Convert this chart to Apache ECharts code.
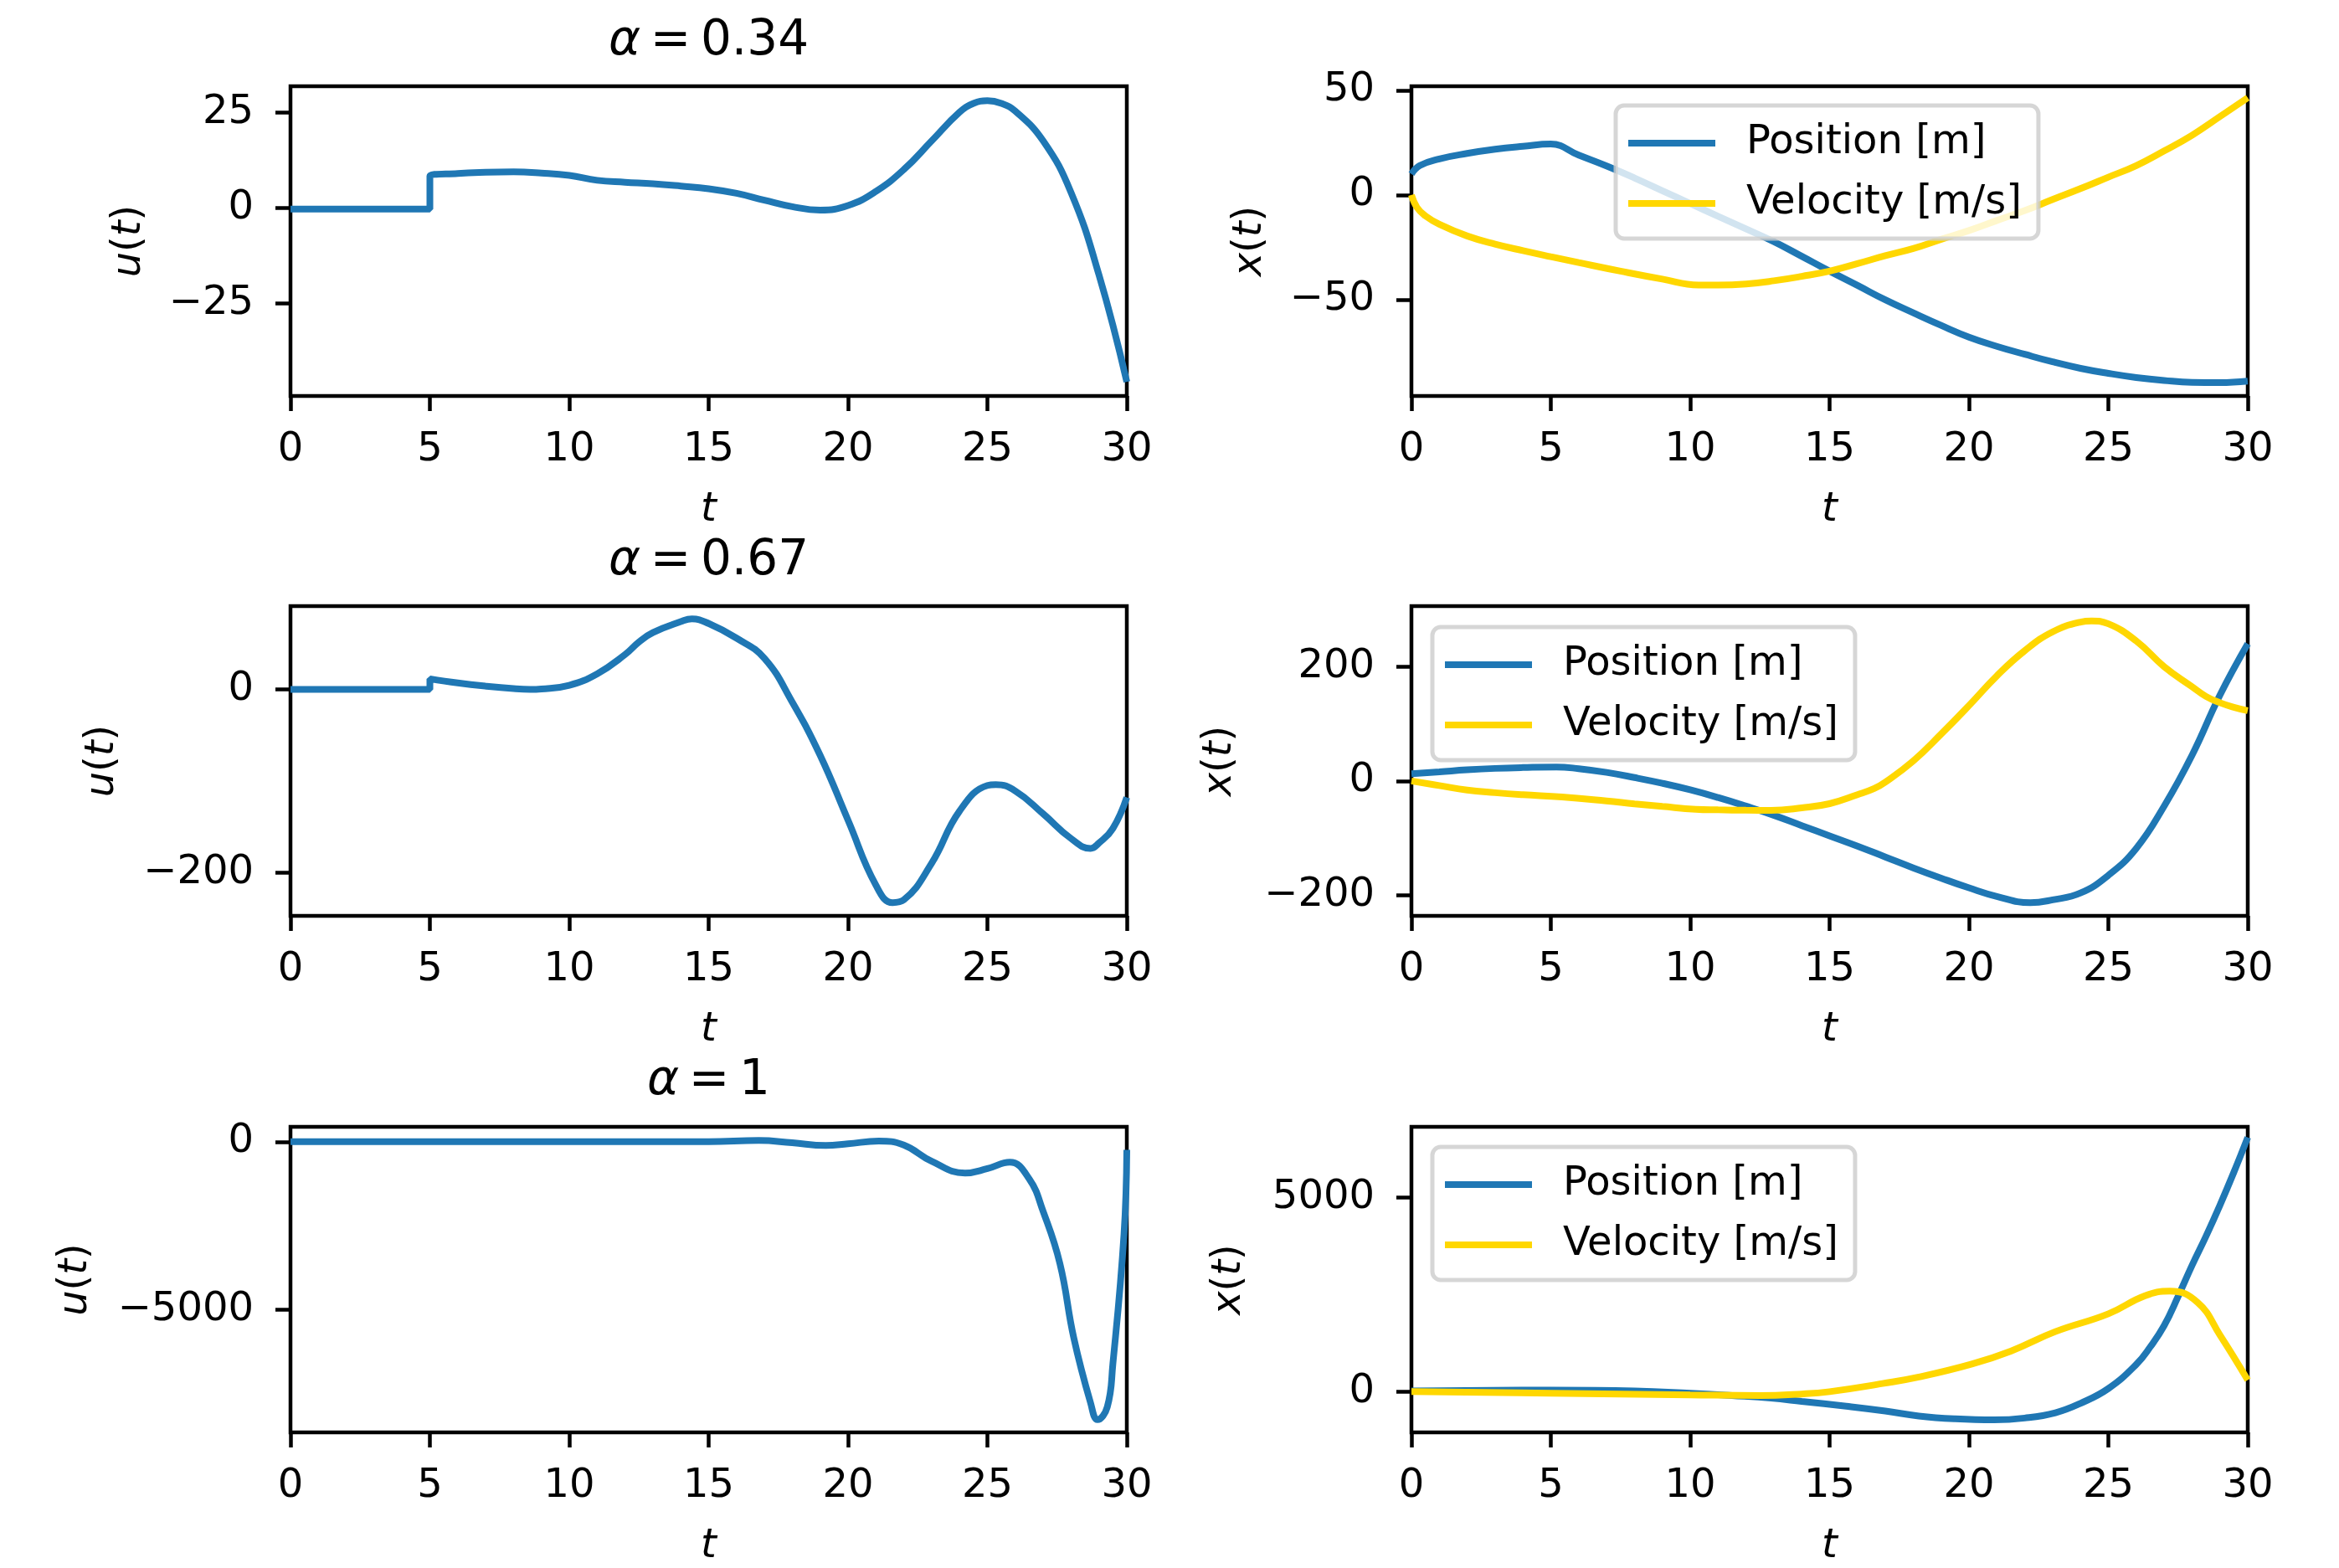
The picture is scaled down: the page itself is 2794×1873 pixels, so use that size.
<!DOCTYPE html>
<html>
<head>
<meta charset="utf-8">
<script src="https://cdn.jsdelivr.net/npm/echarts@6/dist/echarts.min.js"></script>
<style>
  html, body { margin: 0; padding: 0; background: #fff; }
  #main { width: 2794px; height: 1873px; }
</style>
</head>
<body>
<div id="main"></div>
<script>
// ---- data ----
var tTicks = [0, 5, 10, 15, 20, 25, 30];

// alpha = 0.34
var u1T = [0, 2, 4, 5, 5, 6, 7, 8, 9, 10, 11, 12, 13, 14, 15, 16, 17, 18, 19, 20, 21, 22, 23, 24, 24.5, 25, 25.5, 26, 27, 28, 29, 30];
var u1V = [-0.3, -0.3, -0.3, -0.3, 8.3, 9.0, 9.3, 9.4, 9.1, 8.5, 7.2, 6.7, 6.3, 5.7, 5.0, 3.8, 2.0, 0.3, -0.6, 0.6, 4.3, 10.0, 17.5, 25.0, 27.3, 28.0, 27.3, 25.3, 17.5, 4.0, -17.5, -45.5];
var pos1T = [0, 0.3, 1, 2, 3, 4, 5, 6, 7, 8, 9, 10, 11, 12, 13, 14, 15, 16, 17, 18, 19, 20, 21, 22, 23, 24, 25, 26, 27, 28, 29, 30];
var pos1V = [10, 14, 17.2, 19.8, 21.8, 23.2, 24.3, 19.0, 13.8, 8.1, 2.0, -4.1, -10.2, -16.2, -22.3, -29.3, -36.4, -43.2, -50.1, -56.3, -62.3, -67.9, -72.3, -76.1, -79.7, -82.8, -85.2, -87.2, -88.6, -89.5, -89.6, -88.9];
var vel1T = [0, 0.2, 0.5, 1, 2, 3, 4, 5, 6, 7.5, 9, 10.3, 11, 12, 13, 14, 15, 16, 17, 18, 19, 20, 21, 22, 23, 24, 25, 26, 27, 28, 29, 30];
var vel1V = [0, -6, -10, -14, -19.6, -23.5, -26.6, -29.5, -32.3, -36.4, -40.2, -43, -43, -42.5, -41, -38.9, -36.4, -32.8, -29, -25.6, -21.2, -17, -12.2, -7.5, -2.2, 3, 8.5, 14, 21, 28.5, 37.4, 46.4];

// alpha = 0.67
var u2T = [0, 2, 4, 5, 5, 6, 7, 8, 8.6, 9, 10, 11, 12, 12.5, 13, 14, 14.4, 15, 16, 17, 18, 19, 20, 21, 21.6, 22, 23, 24, 25, 25.3, 26, 27, 28, 28.7, 29, 29.5, 30];
var u2V = [0, 0, 0, 0, 11.5, 7, 3.5, 0.8, 0, 0.5, 4.5, 17, 38, 51.8, 62, 74, 77, 72, 56, 34, -14, -72, -143, -214, -233, -230, -190, -133, -105, -104, -111, -136, -163, -173.8, -168, -152, -118];
var pos2T = [0, 1, 2, 3, 4, 5.2, 6, 7, 8, 9, 10, 11, 12, 13, 14, 15, 16, 17, 18, 19, 20, 21, 22.2, 23, 24, 25, 26, 27, 28, 29, 30];
var pos2V = [12.7, 16, 19.5, 22, 23.5, 24.5, 21.5, 15, 6, -4, -15.5, -29, -44, -60, -78, -96, -114, -133, -152, -170, -187, -202, -213, -208, -196, -165, -118, -44, 45, 150, 240];
var vel2T = [0, 1, 2, 3, 4, 5.4, 7, 8, 9, 10.2, 11, 12, 12.9, 14, 15, 16, 16.6, 17, 18, 19, 20, 21, 22, 23, 24, 24.4, 25, 26, 27, 28, 28.5, 29, 29.5, 30];
var vel2V = [0, -8, -16, -20.5, -24, -28, -35, -40, -44.5, -49.5, -50.5, -51.2, -51.4, -47, -39.7, -24, -13.3, -2, 35, 82, 132, 184, 228, 261, 278, 280, 275, 245, 200, 165, 148, 137, 129, 123];

// alpha = 1
var u3T = [0, 5, 10, 15, 16.8, 18, 19.2, 20, 21.1, 22, 23, 24.2, 25, 25.8, 26.5, 27, 27.6, 28.1, 28.7, 28.95, 29.3, 29.5, 29.9, 30];
var u3V = [0, 0, 0, 0, 40, -30, -110, -60, 20, -100, -580, -930, -800, -610, -1110, -2080, -3630, -5850, -7780, -8280, -7900, -6620, -2750, -240];
var pos3T = [0, 5, 8, 10, 11.5, 12.9, 14, 15.6, 17, 18.2, 19.5, 20.9, 22, 23.1, 24, 25, 26, 26.5, 27, 27.5, 28, 28.5, 29, 29.5, 30];
var pos3V = [20, 40, 20, -40, -100, -166, -250, -376, -500, -627, -700, -728, -680, -543, -300, 80, 700, 1150, 1700, 2450, 3250, 4000, 4800, 5650, 6550];
var vel3T = [0, 5, 10, 12.5, 14, 15, 16.9, 18.2, 20.1, 21.5, 23.1, 25, 26.3, 27.2, 28.2, 29, 30];
var vel3V = [0, -40, -83, -100, -60, 0, 209, 376, 711, 1045, 1547, 2006, 2466, 2591, 2300, 1462, 300];

// y tick labels
var yTicks = [[-25, 0, 25], [-50, 0, 50], [-200, 0], [-200, 0, 200], [-5000, 0], [0, 5000]];
var yRanges = [[-49.2, 31.8], [-96, 51.9], [-247.5, 91], [-236, 306], [-8659, 445], [-1049, 6823]];
var titles = ['0.34', '0.67', '1'];
var legendNames = ['Position [m]', 'Velocity [m/s]'];

// ---- chart ----
var FONT = 'DejaVu Sans';
var BLUE = '#1f77b4', GOLD = '#ffd700';
var FS = 48;

function zip(t, v) {
  var out = [];
  for (var i = 0; i < t.length; i++) out.push([t[i], v[i]]);
  return out;
}
function minus(v) { return String(v).replace('-', '\u2212'); }

var lefts = [347, 1686];
var tops = [103, 724, 1346];
var yNameGaps = [168, 168, 200, 204, 232, 193];

var grids = [], xAxes = [], yAxes = [];
for (var i = 0; i < 6; i++) {
  grids.push({
    left: lefts[i % 2], top: tops[Math.floor(i / 2)], width: 999, height: 370,
    show: true, borderColor: '#000', borderWidth: 4.5, backgroundColor: 'transparent'
  });
  xAxes.push({
    gridIndex: i, type: 'value', min: 0, max: 30, interval: 5,
    axisLine: { show: false, onZero: false },
    axisTick: { show: true, length: 18, lineStyle: { color: '#000', width: 4.5 } },
    axisLabel: { fontSize: FS, fontFamily: FONT, color: '#000', margin: 41, showMinLabel: true, showMaxLabel: true },
    splitLine: { show: false },
    name: 't', nameLocation: 'middle', nameGap: 113,
    nameTextStyle: { fontSize: FS, fontFamily: FONT, fontStyle: 'italic', color: '#000' }
  });
  yAxes.push({
    gridIndex: i, type: 'value', min: yRanges[i][0], max: yRanges[i][1],
    axisLine: { show: false, onZero: false },
    axisTick: { show: true, length: 18, customValues: yTicks[i], lineStyle: { color: '#000', width: 4.5 } },
    axisLabel: { fontSize: FS, fontFamily: FONT, color: '#000', margin: 44, customValues: yTicks[i], formatter: minus },
    splitLine: { show: false },
    name: (i % 2 === 0 ? '{i|u}({i|t})' : '{i|x}({i|t})'),
    nameLocation: 'middle', nameRotate: 90, nameGap: yNameGaps[i],
    nameTextStyle: {
      fontSize: FS, fontFamily: FONT, color: '#000',
      rich: { i: { fontSize: FS, fontFamily: FONT, fontStyle: 'italic', color: '#000' } }
    }
  });
}

function line(name, idx, data, color) {
  return {
    name: name, type: 'line', xAxisIndex: idx, yAxisIndex: idx,
    data: data, showSymbol: false, symbol: 'none', smooth: 0.45,
    lineStyle: { color: color, width: 8 }, itemStyle: { color: color },
    animation: false
  };
}

var series = [
  line('u', 0, zip(u1T, u1V), BLUE),
  line(legendNames[0], 1, zip(pos1T, pos1V), BLUE),
  line(legendNames[1], 1, zip(vel1T, vel1V), GOLD),
  line('u', 2, zip(u2T, u2V), BLUE),
  line(legendNames[0], 3, zip(pos2T, pos2V), BLUE),
  line(legendNames[1], 3, zip(vel2T, vel2V), GOLD),
  line('u', 4, zip(u3T, u3V), BLUE),
  line(legendNames[0], 5, zip(pos3T, pos3V), BLUE),
  line(legendNames[1], 5, zip(vel3T, vel3V), GOLD)
];

function legendAt(left, top) {
  return {
    data: legendNames, orient: 'vertical', left: left, top: top,
    icon: 'rect', itemWidth: 104, itemHeight: 8, itemGap: 22,
    padding: [20, 20, 17, 15],
    backgroundColor: 'rgba(255,255,255,0.8)',
    borderColor: 'rgba(204,204,204,0.8)', borderWidth: 5, borderRadius: 10,
    selectedMode: false, z: 10,
    textStyle: { fontSize: FS, fontFamily: FONT, color: '#000', lineHeight: 50, padding: [0, 0, 0, 32] }
  };
}

var graphics = [];
for (var r = 0; r < 3; r++) {
  graphics.push({
    type: 'text', x: 846.5, y: [50, 671, 1292][r],
    style: {
      text: '{a|\u03b1}\u2009=\u2009' + titles[r],
      fontSize: 58, fontFamily: FONT, fill: '#000',
      align: 'center', verticalAlign: 'middle',
      rich: { a: { fontSize: 58, fontFamily: FONT, fontStyle: 'italic', fill: '#000' } }
    }
  });
}

var chart = echarts.init(document.getElementById('main'), null, { renderer: 'canvas' });
chart.setOption({
  animation: false,
  backgroundColor: '#fff',
  grid: grids,
  xAxis: xAxes,
  yAxis: yAxes,
  legend: [legendAt(1930, 126), legendAt(1711, 749), legendAt(1711, 1370)],
  graphic: graphics,
  series: series
});
</script>
</body>
</html>
